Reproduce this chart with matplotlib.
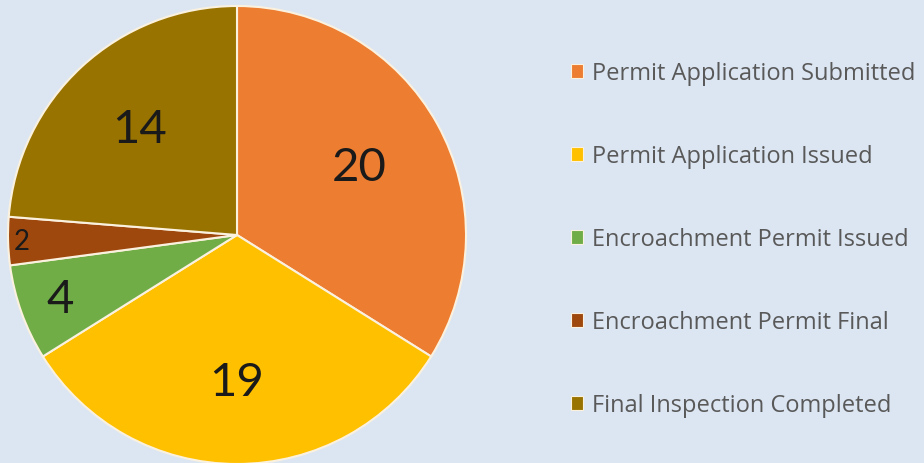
import matplotlib
matplotlib.use("Agg")
import matplotlib.pyplot as plt
from matplotlib.patches import Patch

# Data
categories = [
    "Permit Application Submitted",
    "Permit Application Issued",
    "Encroachment Permit Issued",
    "Encroachment Permit Final",
    "Final Inspection Completed",
]
counts = [20, 19, 4, 2, 14]
colors = ["#ED7D31", "#FFC000", "#70AD47", "#9E480E", "#997300"]

bg = "#DCE6F2"

fig = plt.figure(figsize=(9.24, 4.64), dpi=100, facecolor=bg)
ax = fig.add_axes([8 / 924, -1 / 464, 458 / 924, 458 / 464])
ax.set_facecolor(bg)

wedges, texts, autotexts = ax.pie(
    counts, colors=colors, startangle=90, counterclock=False, radius=1,
    autopct=lambda p: f"{round(p * sum(counts) / 100):d}", pctdistance=0.62,
    wedgeprops=dict(edgecolor="#FBF1DF", linewidth=1.5),
    textprops=dict(fontsize=34, color="#1a1a1a", family="Lato"),
)
# push the small slice labels outward
for t, d, fs in zip(autotexts, [0.61, 0.64, 0.82, 0.94, 0.63], [34, 34, 34, 20, 34]):
    x, y = t.get_position()
    r = (x ** 2 + y ** 2) ** 0.5
    t.set_position((x / r * d, y / r * d))
    t.set_fontsize(fs)

ax.set_xlim(-1, 1)
ax.set_ylim(-1, 1)
ax.set_aspect("equal")
ax.axis("off")

handles = [Patch(facecolor=c, edgecolor="#FBF1DF", linewidth=0.8) for c in colors]
leg = fig.legend(
    handles, categories, loc="upper left", bbox_to_anchor=(550 / 924, 1 - 41 / 464),
    frameon=False, handlelength=0.5, handleheight=0.5, handletextpad=0.4,
    labelspacing=2.5, prop=dict(family="Open Sans", size=17),
)
for t in leg.get_texts():
    t.set_color("#595959")

fig.savefig("out.png", dpi=100, facecolor=bg)
